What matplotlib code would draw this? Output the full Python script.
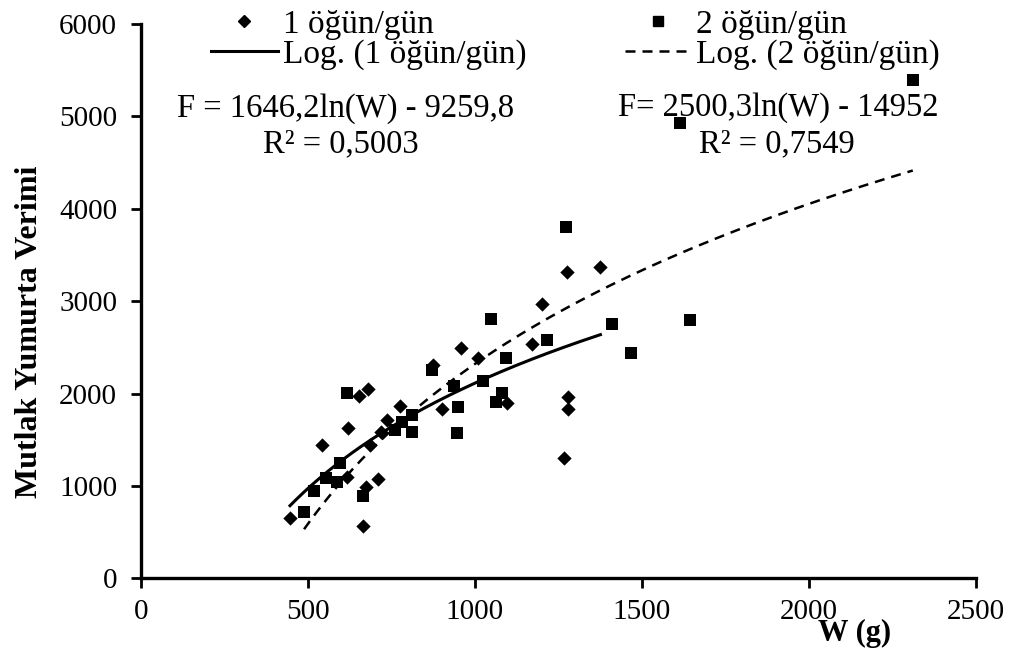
import numpy as np
import matplotlib
matplotlib.use("Agg")
import matplotlib.pyplot as plt
from matplotlib.lines import Line2D

plt.rcParams['font.family'] = ['Liberation Serif', 'DejaVu Serif']

# 1 öğün/gün (diamonds)
w1 = [447, 542, 621, 654, 681, 776, 736, 718, 901, 686, 617, 711, 674, 666,
      958, 1009, 1171, 1200, 1277, 1376, 1095, 1280, 1280, 1267, 875]
f1 = [649, 1443, 1623, 1973, 2045, 1865, 1713, 1587, 1835, 1443, 1093, 1071, 985, 566,
      2496, 2381, 2532, 2969, 3318, 3372, 1894, 1959, 1829, 1299, 2304]
# 2 öğün/gün (squares)
w2 = [617, 811, 781, 761, 811, 950, 946, 597, 554, 588, 664, 519, 489,
      1273, 1049, 1411, 1217, 1093, 1467, 1025, 938, 1082, 1063, 1644, 1614, 2311, 872]
f2 = [2009, 1767, 1695, 1605, 1587, 1857, 1573, 1251, 1089, 1045, 891, 946, 721,
      3799, 2803, 2752, 2576, 2381, 2435, 2135, 2084, 2009, 1908, 2796, 4931, 5393, 2260]

# logarithmic trend coefficients (from the chart)
a1, b1 = 1646.2, -9259.8
a2, b2 = 2500.3, -14952

xticks = [0, 500, 1000, 1500, 2000, 2500]
yticks = [0, 1000, 2000, 3000, 4000, 5000, 6000]

fig = plt.figure(figsize=(10.18, 6.55), dpi=100)
ax = fig.add_axes([0.1382, 0.1171, 0.8205, 0.8463])

ax.scatter(w1, f1, marker='D', s=7.3**2, color='black', zorder=3, linewidths=0)
ax.scatter(w2, f2, marker='s', s=9.3**2, color='black', zorder=3, linewidths=0)

x1 = np.linspace(min(w1), max(w1), 200)
x2 = np.linspace(min(w2), max(w2), 200)
ax.plot(x1, a1 * np.log(x1) + b1, color='black', lw=2.2, zorder=2)
ax.plot(x2, a2 * np.log(x2) + b2, color='black', lw=1.8, dashes=(4, 2.8), zorder=2)

ax.set_xlim(0, 2500)
ax.set_ylim(0, 6000)
ax.set_xticks(xticks)
ax.set_yticks(yticks)
ax.tick_params(axis='both', direction='out', length=7, width=2, labelsize=21, color='black')
ax.tick_params(axis='y', pad=10)
ax.tick_params(axis='x', pad=8)
for s in ['top', 'right']:
    ax.spines[s].set_visible(False)
for s in ['left', 'bottom']:
    ax.spines[s].set_linewidth(2.4)

ax.set_ylabel('Mutlak Yumurta Verimi', fontsize=23, fontweight='bold')
ax.yaxis.set_label_coords((44 - 140.7) / 835.3, 0.444)
ax.text(0.855, -0.1, 'W (g)', transform=ax.transAxes, fontsize=22,
        fontweight='bold', ha='center', va='center')

handles = [
    Line2D([], [], marker='D', ls='none', color='black', ms=6.5),
    Line2D([], [], color='black', lw=2.2),
    Line2D([], [], marker='s', ls='none', color='black', ms=7.5),
    Line2D([], [], color='black', lw=1.8, dashes=(4, 2.8)),
]
labels = ['1 öğün/gün', 'Log. (1 öğün/gün)', '2 öğün/gün', 'Log. (2 öğün/gün)']
fig.legend(handles, labels, ncol=2, loc='upper left', bbox_to_anchor=(211 / 1018, 1 - 9 / 655),
           frameon=False, fontsize=24, handlelength=2.0, handletextpad=0.15,
           columnspacing=2.95, labelspacing=0.0, borderpad=0, borderaxespad=0, numpoints=1)

def ft(px, py, s):
    fig.text(px / 1018, 1 - py / 655, s, fontsize=23.5, ha='center', va='center')

ft(346, 109, 'F = 1646,2ln(W) - 9259,8')
ft(341, 144, 'R² = 0,5003')
ft(778, 108, 'F= 2500,3ln(W) - 14952')
ft(777, 144, 'R² = 0,7549')

fig.savefig('out.png', dpi=100)
